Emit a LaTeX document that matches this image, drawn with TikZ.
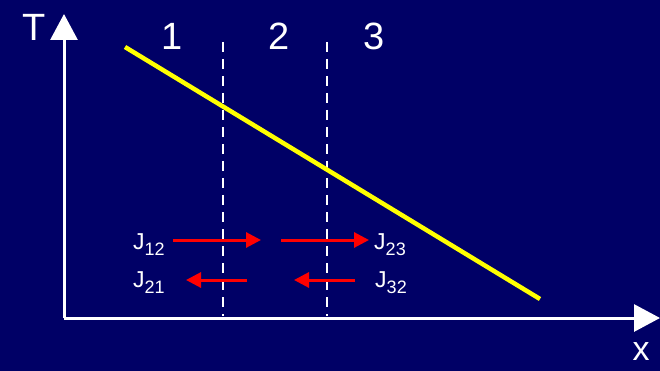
\documentclass[tikz,border=0pt]{standalone}
\usepackage{fontspec}
\setmainfont{Liberation Sans}
\usetikzlibrary{arrows.meta,positioning}
\definecolor{navy}{HTML}{000066}
\definecolor{slope}{HTML}{FFFF00}
\definecolor{flux}{HTML}{FF0000}
\newcommand{\flx}[1]{J\raisebox{-0.5ex}{\fontsize{18}{18}\selectfont #1}}

\begin{document}
\begin{tikzpicture}[
  x=1pt, y=-1pt,
  axis/.style={white, line width=3pt, -{Triangle[length=26pt, width=27pt]}},
  region/.style={white, line width=2.5pt, dash pattern=on 10pt off 7pt},
  profile/.style={slope, line width=4.5pt},
  farr/.style={flux, line width=3pt, -{Triangle[length=15pt, width=15pt]}},
  big/.style={text=white, font=\fontsize{38}{38}\selectfont, inner sep=0pt},
  jlab/.style={text=white, font=\fontsize{23}{23}\selectfont, inner sep=0pt},
]
  \fill[navy] (0,0) rectangle (660,371);
  \useasboundingbox (0,0) rectangle (660,371);

  % axes
  \coordinate (o) at (64,318);
  \coordinate (ttip) at (64,14);
  \coordinate (xtip) at (660,318);
  \draw[axis] (o) -- (ttip);
  \draw[axis] (o) -- (xtip);
  \node[big] (tlab) at (34,27) {T};
  \node[big, font=\fontsize{34}{34}\selectfont] (xlab) at (641,352) {x};

  % region borders
  \coordinate (b1top) at (223,42);
  \coordinate (b1bot) at (223,316);
  \coordinate (b2top) at (327,42);
  \coordinate (b2bot) at (327,316);
  \draw[region] (b1top) -- (b1bot);
  \draw[region] (b2top) -- (b2bot);
  \node[big] (r1) at (172,36) {1};
  \node[big] (r2) at (279,36) {2};
  \node[big] (r3) at (374,36) {3};

  % temperature profile
  \coordinate (p0) at (125,47);
  \coordinate (p1) at (540,299);
  \draw[profile] (p0) -- (p1);

  % fluxes
  \node[jlab] (j12) at (149,245) {\flx{12}};
  \node[jlab] (j23) at (390,245) {\flx{23}};
  \node[jlab] (j21) at (149,283) {\flx{21}};
  \node[jlab] (j32) at (391,283) {\flx{32}};
  \coordinate (a12) at (173,240);
  \coordinate (e12) at (261,240);
  \coordinate (a23) at (281,240);
  \coordinate (e23) at (369,240);
  \coordinate (a21) at (247,280);
  \coordinate (e21) at (186,280);
  \coordinate (a32) at (355,280);
  \coordinate (e32) at (294,280);
  \draw[farr] (a12) -- (e12);
  \draw[farr] (a23) -- (e23);
  \draw[farr] (a21) -- (e21);
  \draw[farr] (a32) -- (e32);
\end{tikzpicture}
\end{document}
